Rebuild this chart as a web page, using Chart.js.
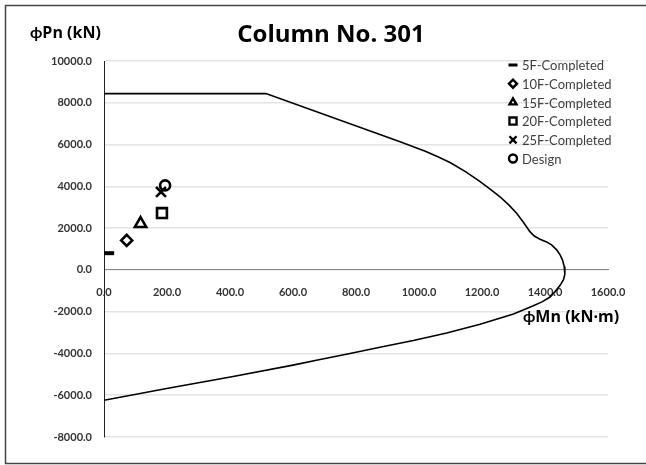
<!DOCTYPE html>
<html>
<head>
<meta charset="utf-8">
<script src="https://cdn.jsdelivr.net/npm/chart.js@4/dist/chart.umd.min.js"></script>
<style>
  html, body { margin: 0; padding: 0; background: #fff; }
  #wrap { width: 646px; height: 465px; }
</style>
</head>
<body>
<div id="wrap"><canvas id="pmChart" width="646" height="465"></canvas></div>
<script>
// P-M interaction envelope (kN·m, kN)
const envM = [0, 514, 940, 1020, 1060, 1100, 1150, 1194, 1230, 1257, 1285, 1310, 1332, 1352, 1366, 1384, 1405, 1421, 1437, 1448, 1456, 1461, 1463, 1459, 1448, 1432, 1416, 1392, 1363, 1300, 1194, 1088, 982, 876, 781, 686, 600, 410, 199, 0];
const envP = [8440, 8440, 6130, 5680, 5420, 5130, 4680, 4230, 3820, 3500, 3110, 2710, 2270, 1830, 1620, 1470, 1340, 1200, 960, 720, 450, 160, -200, -460, -740, -1040, -1300, -1520, -1720, -2110, -2600, -3020, -3380, -3700, -4000, -4290, -4560, -5100, -5680, -6240];

// load points
const loadLabels = ['5F-Completed', '10F-Completed', '15F-Completed', '20F-Completed', '25F-Completed', 'Design'];
const loadM = [10, 72, 116, 184, 181, 194];
const loadP = [800, 1410, 2210, 2720, 3730, 4045];
const loadStyles = ['line', 'rectRot', 'triangle', 'rect', 'crossRot', 'circle'];
const loadRadius = [7, 5.5, 6.5, 7, 7, 5];

const FONT = 'Lato, "DejaVu Sans", sans-serif';
const TFONT = '"Open Sans", Lato, sans-serif';

const datasets = loadLabels.map((lab, k) => ({
  label: lab,
  data: [{ x: loadM[k], y: loadP[k] }],
  pointStyle: loadStyles[k],
  pointRadius: loadRadius[k],
  pointBorderWidth: k === 0 ? 4 : 2.6,
  pointBorderColor: '#000',
  pointBackgroundColor: '#fff',
  showLine: false
}));
datasets.push({
  label: 'envelope',
  data: envM.map((m, i) => ({ x: m, y: envP[i] })),
  showLine: true,
  borderColor: '#000',
  borderWidth: 1.6,
  pointRadius: 0,
  tension: 0,
  fill: false
});

// titles, legend and frame
const decor = {
  id: 'decor',
  afterDraw(chart) {
    const c = chart.ctx;
    c.save();
    c.strokeStyle = '#444';
    c.lineWidth = 1.5;
    c.strokeRect(5.5, 5.5, 700, 458);

    c.fillStyle = '#000';
    c.textBaseline = 'middle';
    c.textAlign = 'center';
    c.font = 'bold 24px ' + TFONT;
    c.fillText('Column No. 301', 331, 35);

    c.font = 'bold 16px ' + TFONT;
    c.textAlign = 'left';
    c.fillText('ϕPn (kN)', 30, 33);
    c.fillText('ϕMn (kN·m)', 523, 317);

    // legend
    c.font = '13px ' + FONT;
    loadLabels.forEach((lab, k) => {
      const y = 65 + k * 18.7;
      c.strokeStyle = '#000';
      c.fillStyle = '#fff';
      c.lineWidth = k === 0 ? 3 : 2.4;
      Chart.helpers.drawPoint(c, {
        pointStyle: loadStyles[k],
        radius: k === 0 ? 4.5 : (k === 3 || k === 4 ? 5 : 4),
        borderWidth: c.lineWidth,
        rotation: 0
      }, 513, y);
      c.fillStyle = '#404040';
      c.fillText(lab, 522, y + 1);
    });
    c.restore();
  }
};

new Chart(document.getElementById('pmChart'), {
  type: 'scatter',
  data: { datasets: datasets },
  options: {
    responsive: false,
    animation: false,
    layout: { padding: { left: 24, top: 61, right: 38, bottom: 28 } },
    plugins: {
      legend: { display: false },
      title: { display: false },
      tooltip: { enabled: false }
    },
    scales: {
      x: {
        type: 'linear',
        min: 0,
        max: 1600,
        position: { y: 0 },
        grid: { display: false },
        border: { display: true, color: '#868686', width: 1 },
        ticks: {
          stepSize: 200,
          padding: 8,
          color: '#333',
          font: { family: FONT, size: 11, weight: 'bold' },
          callback: v => v.toFixed(1)
        }
      },
      y: {
        type: 'linear',
        min: -8000,
        max: 10000,
        afterFit(scale) { scale.width = 80; },
        grid: { color: '#e4e4e4', lineWidth: 1.5, drawTicks: false },
        border: { display: true, color: '#222', width: 1 },
        ticks: {
          stepSize: 2000,
          padding: 12,
          color: '#333',
          font: { family: FONT, size: 11, weight: 'bold' },
          callback: v => v.toFixed(1)
        }
      }
    }
  },
  plugins: [decor]
});
</script>
</body>
</html>
